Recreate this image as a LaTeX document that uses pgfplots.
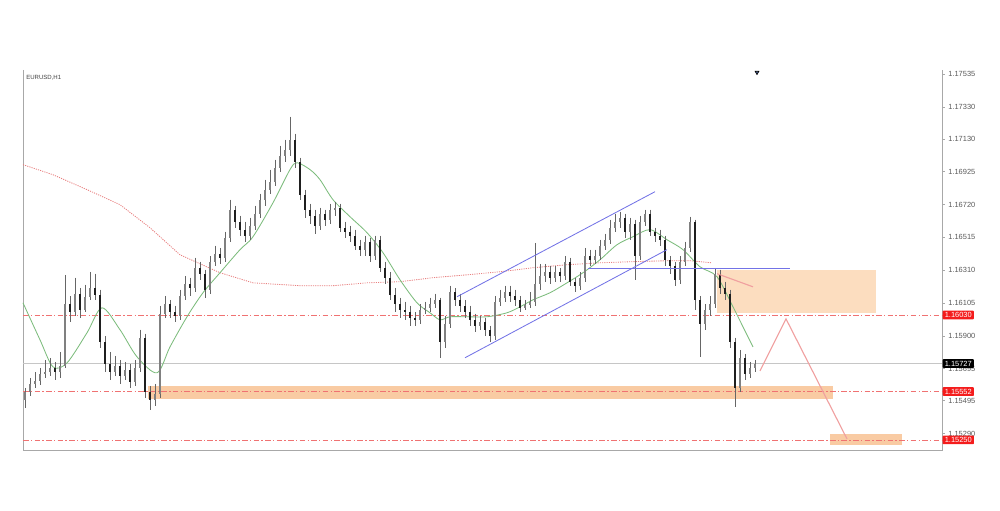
\documentclass[border=0pt]{standalone}
\usepackage{fontspec}
\setmainfont{Liberation Sans}
\usepackage{pgfplots}
\usepackage{pgfplotstable}
\pgfplotsset{compat=1.18}

\definecolor{zone}{HTML}{FCDDBF}
\definecolor{band}{HTML}{F9CBA3}
\definecolor{lvl}{HTML}{F07272}
\definecolor{chan}{HTML}{7373E6}
\definecolor{ma50}{HTML}{7CBC7C}
\definecolor{ma200}{HTML}{E88080}
\definecolor{proj}{HTML}{F0A0A0}
\definecolor{axisgray}{HTML}{A8A8A8}
\definecolor{lblred}{HTML}{F41C1C}
\definecolor{shift}{HTML}{3D4F7F}

% x = bar position, o h l c = open high low close
\pgfplotstableread{
x o h l c
25 1.15500 1.15575 1.15450 1.15550
30 1.15550 1.15638 1.15525 1.15600
35 1.15600 1.15675 1.15575 1.15619
40 1.15619 1.15700 1.15594 1.15663
45 1.15663 1.15750 1.15638 1.15675
50 1.15675 1.15763 1.15650 1.15700
55 1.15700 1.15738 1.15625 1.15675
60 1.15675 1.15800 1.15638 1.15713
65 1.15713 1.16281 1.15700 1.16100
70 1.16100 1.16150 1.15988 1.16050
75 1.16050 1.16263 1.16025 1.16163
80 1.16163 1.16200 1.16013 1.16063
85 1.16063 1.16219 1.16050 1.16144
90 1.16144 1.16300 1.16125 1.16200
95 1.16200 1.16288 1.16125 1.16156
100 1.16156 1.16188 1.15825 1.15863
105 1.15863 1.15900 1.15675 1.15725
110 1.15725 1.15800 1.15625 1.15675
115 1.15675 1.15775 1.15650 1.15713
120 1.15713 1.15750 1.15600 1.15650
125 1.15650 1.15738 1.15625 1.15688
130 1.15688 1.15725 1.15575 1.15613
135 1.15613 1.15750 1.15588 1.15700
140 1.15700 1.15938 1.15675 1.15888
145 1.15888 1.15913 1.15513 1.15550
150 1.15550 1.15588 1.15438 1.15500
155 1.15500 1.15600 1.15463 1.15538
160 1.15538 1.16088 1.15513 1.16038
165 1.16038 1.16150 1.16013 1.16100
170 1.16100 1.16125 1.16013 1.16050
175 1.16050 1.16088 1.15988 1.16025
180 1.16025 1.16188 1.16000 1.16150
185 1.16150 1.16275 1.16125 1.16225
190 1.16225 1.16263 1.16150 1.16200
195 1.16200 1.16388 1.16175 1.16325
200 1.16325 1.16363 1.16250 1.16288
205 1.16288 1.16313 1.16138 1.16188
210 1.16188 1.16400 1.16163 1.16363
215 1.16363 1.16463 1.16338 1.16413
220 1.16413 1.16450 1.16350 1.16388
225 1.16388 1.16550 1.16363 1.16513
230 1.16513 1.16750 1.16488 1.16688
235 1.16688 1.16713 1.16575 1.16613
240 1.16613 1.16650 1.16525 1.16563
245 1.16563 1.16613 1.16488 1.16525
250 1.16525 1.16638 1.16500 1.16588
255 1.16588 1.16713 1.16563 1.16663
260 1.16663 1.16788 1.16638 1.16750
265 1.16750 1.16875 1.16713 1.16813
270 1.16813 1.16938 1.16788 1.16863
275 1.16863 1.17000 1.16838 1.16950
280 1.16950 1.17088 1.16925 1.17025
285 1.17025 1.17125 1.16988 1.17063
290 1.17063 1.17269 1.17025 1.17125
295 1.17125 1.17163 1.16950 1.16988
300 1.16988 1.17013 1.16750 1.16781
305 1.16781 1.16813 1.16638 1.16688
310 1.16688 1.16725 1.16600 1.16650
315 1.16650 1.16688 1.16538 1.16588
320 1.16588 1.16700 1.16563 1.16663
325 1.16663 1.16688 1.16588 1.16625
330 1.16625 1.16725 1.16600 1.16688
335 1.16688 1.16738 1.16650 1.16700
340 1.16700 1.16725 1.16550 1.16575
345 1.16575 1.16613 1.16513 1.16550
350 1.16550 1.16588 1.16488 1.16525
355 1.16525 1.16563 1.16438 1.16463
360 1.16463 1.16500 1.16400 1.16438
365 1.16438 1.16525 1.16400 1.16488
370 1.16488 1.16513 1.16363 1.16400
375 1.16400 1.16525 1.16375 1.16500
380 1.16500 1.16525 1.16300 1.16325
385 1.16325 1.16363 1.16225 1.16263
390 1.16263 1.16300 1.16125 1.16156
395 1.16156 1.16200 1.16050 1.16100
400 1.16100 1.16138 1.16013 1.16063
405 1.16063 1.16113 1.16000 1.16050
410 1.16050 1.16088 1.15963 1.16013
415 1.16013 1.16050 1.15963 1.16000
420 1.16000 1.16100 1.15975 1.16063
425 1.16063 1.16113 1.16038 1.16075
430 1.16075 1.16138 1.16050 1.16100
435 1.16100 1.16163 1.16075 1.16125
440 1.16125 1.16138 1.15763 1.15863
445 1.15863 1.16025 1.15825 1.15975
450 1.15975 1.16213 1.15950 1.16175
455 1.16175 1.16200 1.16088 1.16125
460 1.16125 1.16163 1.16050 1.16088
465 1.16088 1.16125 1.16013 1.16050
470 1.16050 1.16088 1.15963 1.16000
475 1.16000 1.16038 1.15925 1.15963
480 1.15963 1.16025 1.15938 1.15988
485 1.15988 1.16013 1.15900 1.15938
490 1.15938 1.15963 1.15863 1.15900
495 1.15900 1.16150 1.15875 1.16113
500 1.16113 1.16188 1.16088 1.16138
505 1.16138 1.16213 1.16113 1.16175
510 1.16175 1.16213 1.16113 1.16150
515 1.16150 1.16188 1.16088 1.16125
520 1.16125 1.16150 1.16050 1.16075
525 1.16075 1.16125 1.16063 1.16094
530 1.16094 1.16175 1.16075 1.16113
535 1.16113 1.16481 1.16088 1.16225
540 1.16225 1.16350 1.16188 1.16275
545 1.16275 1.16350 1.16238 1.16300
550 1.16300 1.16338 1.16225 1.16263
555 1.16263 1.16338 1.16238 1.16300
560 1.16300 1.16325 1.16238 1.16275
565 1.16275 1.16400 1.16250 1.16363
570 1.16363 1.16388 1.16213 1.16238
575 1.16238 1.16263 1.16175 1.16213
580 1.16213 1.16300 1.16188 1.16263
585 1.16263 1.16450 1.16238 1.16400
590 1.16400 1.16438 1.16338 1.16375
595 1.16375 1.16438 1.16350 1.16400
600 1.16400 1.16500 1.16375 1.16463
605 1.16463 1.16538 1.16438 1.16500
610 1.16500 1.16625 1.16475 1.16575
615 1.16575 1.16663 1.16550 1.16613
620 1.16613 1.16675 1.16575 1.16638
625 1.16638 1.16663 1.16513 1.16550
630 1.16550 1.16638 1.16500 1.16600
635 1.16600 1.16625 1.16250 1.16400
640 1.16400 1.16650 1.16375 1.16613
645 1.16613 1.16688 1.16588 1.16663
650 1.16663 1.16688 1.16525 1.16550
655 1.16550 1.16575 1.16488 1.16525
660 1.16525 1.16563 1.16463 1.16500
665 1.16500 1.16525 1.16338 1.16375
670 1.16375 1.16400 1.16288 1.16338
675 1.16338 1.16363 1.16213 1.16250
680 1.16250 1.16400 1.16225 1.16363
685 1.16363 1.16488 1.16338 1.16450
690 1.16450 1.16644 1.16425 1.16613
695 1.16613 1.16625 1.16063 1.16125
700 1.16125 1.16150 1.15769 1.15975
705 1.15975 1.16100 1.15938 1.16063
710 1.16063 1.16150 1.16025 1.16100
715 1.16100 1.16325 1.16075 1.16288
720 1.16288 1.16313 1.16163 1.16200
725 1.16200 1.16238 1.16125 1.16163
730 1.16163 1.16188 1.15825 1.15863
735 1.15863 1.15888 1.15456 1.15575
740 1.15575 1.15813 1.15550 1.15763
745 1.15763 1.15788 1.15625 1.15663
750 1.15663 1.15738 1.15638 1.15700
755 1.15700 1.15750 1.15675 1.15727
}\candles

\begin{document}
\begin{tikzpicture}
\path[use as bounding box] (0,0) rectangle (25cm,12.75cm);
\begin{axis}[
  at={(0.575cm,1.5cm)}, anchor=south west,
  width=22.975cm, height=9.5cm, scale only axis,
  xmin=23, xmax=942, ymin=1.15187, ymax=1.17560,
  clip=false,
  axis line style={draw=none},
  xtick=\empty,
  ytick={1.17535,1.17330,1.17130,1.16925,1.16720,1.16515,1.16310,1.16105,1.15900,1.15695,1.15495,1.15290},
  ytick pos=right, yticklabel pos=right,
  tick align=outside, major tick length=0.07cm,
  tick style={axisgray, line width=0.4pt},
  yticklabel style={font=\fontsize{5.3}{6}\selectfont, text=black!65, anchor=west, xshift=-1pt,
    /pgf/number format/fixed, /pgf/number format/precision=5, /pgf/number format/fixed zerofill,
    /pgf/number format/assume math mode=true},
  scaled y ticks=false,
]
% frame (left, bottom, right)
\draw[axisgray, line width=0.6pt] (rel axis cs:0,1) -- (rel axis cs:0,0) -- (rel axis cs:1,0) -- (rel axis cs:1,1);

% zones
\addplot[draw=none, fill=zone, forget plot] coordinates {(717,1.16313) (876,1.16313) (876,1.16044) (717,1.16044)} -- cycle;
\addplot[draw=none, fill=band, forget plot] coordinates {(148,1.15588) (833,1.15588) (833,1.15506) (148,1.15506)} -- cycle;
\addplot[draw=none, fill=band, forget plot] coordinates {(830,1.15288) (902,1.15288) (902,1.15219) (830,1.15219)} -- cycle;

% levels
\addplot[lvl, line width=0.55pt, dash pattern=on 4pt off 1.6pt on 1pt off 1.6pt] coordinates {(23,1.16030) (942,1.16030)};
\addplot[lvl, line width=0.55pt, dash pattern=on 4pt off 1.6pt on 1pt off 1.6pt] coordinates {(23,1.15552) (942,1.15552)};
\addplot[lvl, line width=0.55pt, dash pattern=on 4pt off 1.6pt on 1pt off 1.6pt] coordinates {(23,1.15250) (942,1.15250)};
\addplot[gray!45, line width=0.5pt] coordinates {(23,1.15727) (942,1.15727)};

% moving averages
\addplot[ma200, line width=0.6pt, dash pattern=on 0.8pt off 0.8pt] coordinates {
(23,1.16969) (53,1.16906) (87,1.16813) (120,1.16719) (150,1.16575) (180,1.16406)
(220,1.16294) (253,1.16231) (300,1.16213) (333,1.16213) (367,1.16231) (400,1.16238)
(433,1.16263) (467,1.16281) (500,1.16300) (533,1.16325) (567,1.16344) (600,1.16356)
(633,1.16363) (667,1.16369) (690,1.16369) (712,1.16356)};
\addplot[ma50, line width=0.6pt, smooth] coordinates {
(23,1.16106) (40,1.15875) (53,1.15706) (67,1.15731) (87,1.15919) (102,1.16075)
(120,1.15938) (137,1.15769) (157,1.15669) (170,1.15831) (187,1.16019) (203,1.16169)
(220,1.16294) (240,1.16438) (253,1.16519) (273,1.16731) (290,1.16938) (297,1.16981)
(310,1.16938) (320,1.16875) (333,1.16750) (350,1.16644) (367,1.16544) (383,1.16419)
(400,1.16250) (417,1.16106) (430,1.16044) (440,1.16000) (450,1.16019) (467,1.16019)
(487,1.16019) (507,1.16044) (520,1.16081) (533,1.16125) (550,1.16169) (567,1.16231)
(583,1.16294) (600,1.16375) (617,1.16469) (633,1.16519) (650,1.16563) (667,1.16500)
(683,1.16438) (700,1.16331) (717,1.16269) (733,1.16081) (743,1.15956) (753,1.15831)};

% candles: wicks, then bodies
\addplot[draw=none, mark=none, forget plot,
  error bars/.cd, y dir=minus, y explicit, error mark=none,
  error bar style={draw=black!60, solid, line width=0.55pt}]
  table[x=x, y=h, y error minus expr=\thisrow{h}-\thisrow{l}] {\candles};
\addplot[draw=none, mark=none, forget plot,
  error bars/.cd, y dir=plus, y explicit, error mark=none,
  error bar style={draw=black!50, solid, line width=2.1pt}]
  table[x=x, y=o, y error plus expr={max(\thisrow{c}-\thisrow{o},0)}] {\candles};
\addplot[draw=none, mark=none, forget plot,
  error bars/.cd, y dir=plus, y explicit, error mark=none,
  error bar style={draw=black!88, solid, line width=2.1pt}]
  table[x=x, y=c, y error plus expr={max(\thisrow{o}-\thisrow{c},0)}] {\candles};

% channel and resistance
\addplot[chan, line width=0.6pt] coordinates {(457,1.16144) (655,1.16800)};
\addplot[chan, line width=0.6pt] coordinates {(465,1.15763) (667,1.16438)};
\addplot[chan, line width=0.6pt] coordinates {(588,1.16319) (790,1.16319)};

% projected path
\addplot[proj, line width=0.8pt] coordinates {(717,1.16288) (753,1.16206)};
\addplot[proj, line width=0.8pt] coordinates {(760,1.15681) (786,1.16006) (847,1.15256)};

% chart shift marker
\addplot[only marks, mark=triangle*, mark size=1.6pt, mark options={rotate=180, fill=shift, draw=none}] coordinates {(757,1.17545)};

\node[anchor=north west, font=\fontsize{4.3}{5}\selectfont, text=black!75, inner sep=0pt] at (axis cs:26,1.17530) {EURUSD,H1};

\coordinate (a) at (axis cs:942,1.16030);
\coordinate (b) at (axis cs:942,1.15727);
\coordinate (d) at (axis cs:942,1.15552);
\coordinate (e) at (axis cs:942,1.15250);
\end{axis}
\tikzset{lbl/.style={anchor=west, font=\fontsize{5.3}{6}\selectfont, text=white, inner xsep=1.5pt, inner ysep=1.2pt, rounded corners=0.5pt, xshift=0.3pt}}
\node[lbl, fill=lblred] at (a) {1.16030};
\node[lbl, fill=black] at (b) {1.15727};
\node[lbl, fill=lblred] at (d) {1.15552};
\node[lbl, fill=lblred] at (e) {1.15250};
\end{tikzpicture}
\end{document}
